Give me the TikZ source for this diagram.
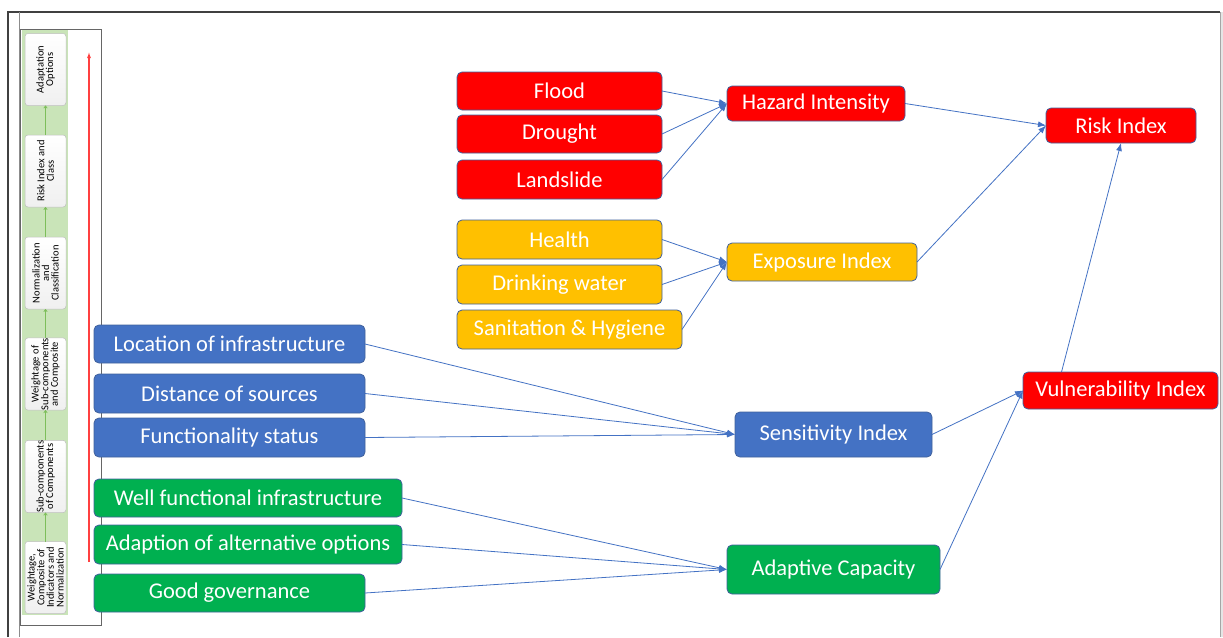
\documentclass[tikz,border=0pt]{standalone}
\usepackage{fontspec}
\setmainfont{Carlito}
\usetikzlibrary{arrows.meta}

\definecolor{HazardRed}{HTML}{FF0000}
\definecolor{ExposureGold}{HTML}{FFC000}
\definecolor{SensBlue}{HTML}{4472C4}
\definecolor{AdaptGreen}{HTML}{00B050}
\definecolor{BoxEdge}{HTML}{41619C}
\definecolor{LinkBlue}{HTML}{4472C4}
\definecolor{StripGreen}{HTML}{C9E4B8}
\definecolor{StageLine}{HTML}{7DBE5A}

\tikzset{
    box/.style={draw=BoxEdge, line width=0.8pt, rounded corners=5pt, inner sep=0pt, outer sep=0pt,
        text=white, font=\fontsize{22.5}{24}\selectfont},
    hazardbox/.style={box, fill=HazardRed},
    exposurebox/.style={box, fill=ExposureGold},
    sensbox/.style={box, fill=SensBlue},
    adaptbox/.style={box, fill=AdaptGreen},
    stagebox/.style={draw=black!25, line width=0.5pt, rounded corners=3pt, inner sep=0pt, outer sep=0pt,
        top color=white, bottom color=black!6, rotate=90, align=center,
        minimum width=72pt, minimum height=41pt, font=\fontsize{10.5}{9.6}\selectfont},
    link/.style={draw=LinkBlue, line width=0.8pt, -{Latex[length=8pt,width=6pt]}},
    stagelink/.style={draw=StageLine, line width=0.8pt, -{To[length=3pt,width=4pt]}},
}
% box at a centre point with a given size
\newcommand\IndexBox[7]{%
    \node[#1, minimum width=#5pt, minimum height=#6pt] (#2) at (#3,#4) {#7};
}
% one of the stages in the side panel (rotated, so east points up)
\newcommand\StageBox[3]{%
    \node[stagebox] (#1) at (45.5,#2) {#3};
}

\begin{document}
\begin{tikzpicture}[x=1pt,y=-1pt]
    \fill[white] (0,0) rectangle (1223,637);
    \useasboundingbox (0,0) rectangle (1223,637);

    % page frame
    \fill[black!10] (1220,12) rectangle (1223,637);
    \draw[black!35, line width=0.8pt] (1220,12) -- (1220,637);
    \draw[black!75, line width=1.5pt] (8,637) -- (8,12) -- (1220,12);
    \draw[black!45, line width=0.6pt] (19.5,12) -- (19.5,637);

    % side panel with the stages
    \draw[black!60, line width=0.6pt] (20,29) rectangle (101,625);
    \fill[StripGreen] (22,30) rectangle (68,615);
    \StageBox{StageSix}{577.5}{Weightage,\\Composite of\\Indicators and\\Normalization}
    \StageBox{StageFive}{476.5}{Sub-components\\of Components}
    \StageBox{StageFour}{374}{Weightage of\\Sub-components\\and Composite}
    \StageBox{StageThree}{273}{Normalization\\and\\Classification}
    \StageBox{StageTwo}{171}{Risk Index and\\Class}
    \StageBox{StageOne}{69.5}{Adaptation\\Options}
    \foreach \lower/\upper in {StageSix/StageFive, StageFive/StageFour, StageFour/StageThree,
        StageThree/StageTwo, StageTwo/StageOne}
        \draw[stagelink] (\lower.east) -- (\upper.west);
    \coordinate (FlowStart) at (89,562);
    \coordinate (FlowEnd) at (89,52);
    \draw[red!75, line width=1.1pt, -{Latex[length=6pt,width=4pt]}] (FlowStart) -- (FlowEnd);

    % hazard
    \IndexBox{hazardbox}{Flood}{559.5}{91}{205}{38}{Flood}
    \IndexBox{hazardbox}{Drought}{559.5}{134}{205}{38}{Drought}
    \IndexBox{hazardbox}{Landslide}{559.5}{179.5}{205}{39}{Landslide}
    \IndexBox{hazardbox}{HazardIntensity}{816}{103.5}{178}{35}{Hazard Intensity}

    % exposure
    \IndexBox{exposurebox}{Health}{559.5}{239.5}{205}{39}{Health}
    \IndexBox{exposurebox}{DrinkingWater}{559.5}{284.5}{205}{39}{Drinking water}
    \IndexBox{exposurebox}{Sanitation}{569.5}{329.5}{225}{39}{Sanitation \& Hygiene}
    \IndexBox{exposurebox}{ExposureIndex}{822}{262}{190}{38}{Exposure Index}

    % sensitivity
    \IndexBox{sensbox}{Location}{229.5}{344}{271}{38}{Location of infrastructure}
    \IndexBox{sensbox}{Distance}{229.5}{393.5}{271}{39}{Distance of sources}
    \IndexBox{sensbox}{Functionality}{229.5}{437.5}{271}{39}{Functionality status}
    \IndexBox{sensbox}{SensitivityIndex}{833.5}{434.5}{197}{45}{Sensitivity Index}

    % adaptive capacity
    \IndexBox{adaptbox}{WellFunctional}{248}{498}{308}{38}{Well functional infrastructure}
    \IndexBox{adaptbox}{Adaption}{248}{544.5}{308}{39}{Adaption of alternative options}
    \IndexBox{adaptbox}{Governance}{229.5}{593}{271}{38}{Good governance}
    \IndexBox{adaptbox}{AdaptiveCapacity}{833.5}{569.5}{213}{49}{Adaptive Capacity}

    % results
    \IndexBox{hazardbox}{VulnerabilityIndex}{1120.5}{390.5}{195}{37}{Vulnerability Index}
    \IndexBox{hazardbox}{RiskIndex}{1121}{125.5}{150}{35}{Risk Index}

    % links
    \foreach \src in {Flood, Drought, Landslide}
        \draw[link] (\src.east) -- (HazardIntensity.west);
    \foreach \src in {Health, DrinkingWater, Sanitation}
        \draw[link] (\src.east) -- (ExposureIndex.west);
    \foreach \src in {Location, Distance, Functionality}
        \draw[link] (\src.east) -- (SensitivityIndex.west);
    \foreach \src in {WellFunctional, Adaption, Governance}
        \draw[link] (\src.east) -- (AdaptiveCapacity.west);
    \draw[link] (SensitivityIndex.east) -- (VulnerabilityIndex.west);
    \draw[link] (AdaptiveCapacity.east) -- (VulnerabilityIndex.west);
    \draw[link] (HazardIntensity.east) -- (RiskIndex.west);
    \draw[link] (ExposureIndex.east) -- (RiskIndex.west);
    \draw[link] ([xshift=-59pt]VulnerabilityIndex.north) -- (RiskIndex.south);
\end{tikzpicture}
\end{document}
